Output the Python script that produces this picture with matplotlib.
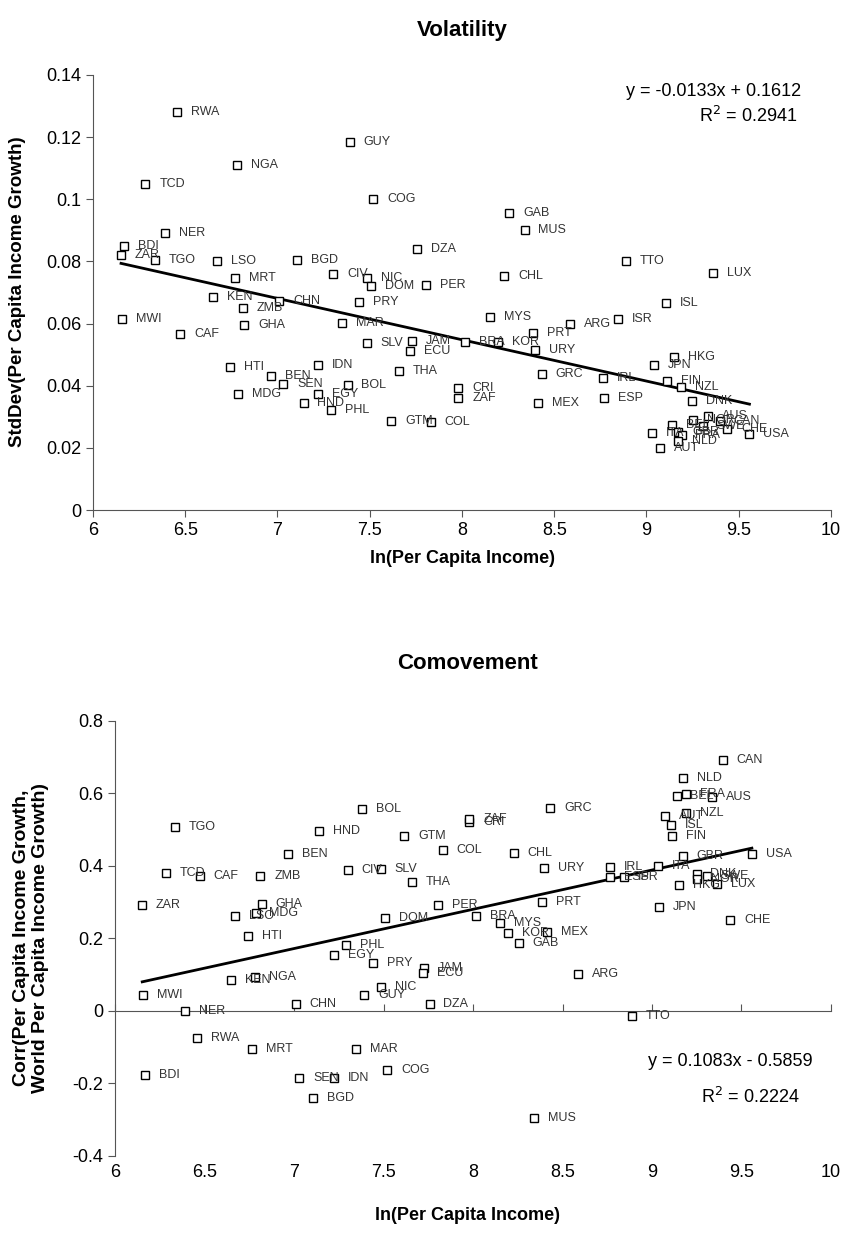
import numpy as np
import matplotlib
matplotlib.use("Agg")
import matplotlib.pyplot as plt
from matplotlib.ticker import FormatStrFormatter, MultipleLocator

plt.rcParams['font.family'] = ['Liberation Sans', 'DejaVu Sans']

# data
countries = ['RWA', 'GUY', 'NGA', 'TCD', 'COG', 'NER', 'BDI', 'ZAR', 'TGO', 'LSO',
             'BGD', 'MRT', 'CIV', 'NIC', 'DOM', 'KEN', 'CHN', 'PRY', 'GAB', 'MUS',
             'DZA', 'PER', 'CHL', 'MAR', 'MYS', 'PRT', 'ARG', 'ZMB', 'MWI', 'GHA',
             'CAF', 'SLV', 'HTI', 'IDN', 'BEN', 'SEN', 'BOL', 'MDG', 'EGY', 'HND',
             'PHL', 'GTM', 'JAM', 'ECU', 'BRA', 'KOR', 'URY', 'THA', 'GRC', 'IRL',
             'CRI', 'ZAF', 'ESP', 'MEX', 'COL', 'ISR', 'TTO', 'LUX', 'ISL', 'HKG',
             'JPN', 'FIN', 'NZL', 'DNK', 'AUS', 'BEL', 'NOR', 'CAN', 'ITA', 'GBR',
             'FRA', 'SWE', 'CHE', 'USA', 'NLD', 'AUT']
ln_income = [6.457, 7.392, 6.782, 6.284, 7.520, 6.390, 6.170, 6.152, 6.336, 6.670,
             7.107, 6.768, 7.301, 7.486, 7.507, 6.650, 7.010, 7.443, 8.256, 8.339,
             7.757, 7.805, 8.228, 7.348, 8.153, 8.384, 8.585, 6.812, 6.157, 6.820,
             6.472, 7.485, 6.745, 7.222, 6.966, 7.030, 7.380, 6.785, 7.222, 7.141,
             7.292, 7.617, 7.727, 7.720, 8.015, 8.195, 8.396, 7.659, 8.432, 8.764,
             7.980, 7.980, 8.768, 8.414, 7.831, 8.844, 8.888, 9.362, 9.104, 9.150,
             9.039, 9.113, 9.189, 9.249, 9.333, 9.137, 9.252, 9.396, 9.032, 9.172,
             9.190, 9.305, 9.438, 9.558, 9.172, 9.071]
stddev = [0.1280, 0.1185, 0.1110, 0.1050, 0.1000, 0.0890, 0.0851, 0.0820, 0.0805, 0.0801,
          0.0805, 0.0746, 0.0761, 0.0746, 0.0720, 0.0686, 0.0672, 0.0668, 0.0956, 0.0900,
          0.0841, 0.0723, 0.0753, 0.0602, 0.0620, 0.0569, 0.0598, 0.0651, 0.0615, 0.0597,
          0.0567, 0.0536, 0.0461, 0.0466, 0.0431, 0.0405, 0.0401, 0.0375, 0.0375, 0.0345,
          0.0322, 0.0287, 0.0545, 0.0513, 0.0542, 0.0540, 0.0515, 0.0448, 0.0438, 0.0424,
          0.0392, 0.0362, 0.0362, 0.0343, 0.0282, 0.0615, 0.0801, 0.0762, 0.0666, 0.0491,
          0.0467, 0.0416, 0.0397, 0.0352, 0.0302, 0.0273, 0.0289, 0.0287, 0.0247, 0.0250,
          0.0240, 0.0271, 0.0260, 0.0246, 0.0223, 0.0199]
corr = [-0.075, 0.044, 0.095, 0.380, -0.163, 0.001, -0.178, 0.291, 0.508, 0.262,
        -0.241, -0.106, 0.389, 0.065, 0.257, 0.086, 0.019, 0.133, 0.188, -0.295,
        0.019, 0.291, 0.437, -0.106, 0.242, 0.302, 0.101, 0.372, 0.044, 0.295,
        0.372, 0.393, 0.207, -0.186, 0.433, -0.186, 0.556, 0.269, 0.154, 0.497,
        0.182, 0.483, 0.118, 0.104, 0.262, 0.214, 0.394, 0.356, 0.561, 0.398,
        0.520, 0.529, 0.370, 0.219, 0.444, 0.369, -0.013, 0.350, 0.513, 0.348,
        0.288, 0.484, 0.547, 0.378, 0.589, 0.593, 0.363, 0.692, 0.401, 0.428,
        0.599, 0.371, 0.251, 0.433, 0.642, 0.539]

fit_vol = (-0.0133, 0.1612, 0.2941)
fit_com = (0.1083, -0.5859, 0.2224)

fig = plt.figure(figsize=(8.47, 12.35), dpi=100)
ax1 = fig.add_axes([0.1098, 0.5870, 0.8713, 0.3523])
ax2 = fig.add_axes([0.1358, 0.0640, 0.8453, 0.3522])


def scatter_labels(ax, x, y):
    ax.plot(x, y, 's', ms=6, mfc='white', mec='black', mew=1.0, ls='none', zorder=3)
    for c, xi, yi in zip(countries, x, y):
        ax.annotate(c, (xi, yi), xytext=(10, 0), textcoords='offset points',
                    ha='left', va='center', fontsize=9, color='#333333', zorder=4)


def trend(ax, fit, x):
    xs = np.array([min(x), max(x)])
    ax.plot(xs, fit[0] * xs + fit[1], color='black', lw=2.0, zorder=2)


for ax in (ax1, ax2):
    ax.spines['top'].set_visible(False)
    ax.spines['right'].set_visible(False)
    ax.spines['left'].set_color('#555555')
    ax.spines['bottom'].set_color('#555555')
    ax.set_xlim(6, 10)
    ax.xaxis.set_major_locator(MultipleLocator(0.5))
    ax.xaxis.set_major_formatter(FormatStrFormatter('%g'))
    ax.yaxis.set_major_formatter(FormatStrFormatter('%g'))
    ax.tick_params(axis='y', direction='out', length=5, labelsize=13, color='#555555')

# --- Volatility ---
scatter_labels(ax1, ln_income, stddev)
trend(ax1, fit_vol, ln_income)
ax1.set_ylim(0, 0.14)
ax1.yaxis.set_major_locator(MultipleLocator(0.02))
ax1.tick_params(axis='x', direction='out', length=5, labelsize=13, color='#555555')
ax1.text(0.96, 0.962, 'y = -0.0133x + 0.1612', transform=ax1.transAxes,
         ha='right', va='center', fontsize=13)
ax1.text(0.888, 0.905, 'R$^2$ = 0.2941', transform=ax1.transAxes,
         ha='center', va='center', fontsize=13)

# --- Comovement ---
scatter_labels(ax2, ln_income, corr)
trend(ax2, fit_com, ln_income)
ax2.set_ylim(-0.4, 0.8)
ax2.yaxis.set_major_locator(MultipleLocator(0.2))
ax2.spines['bottom'].set_position(('data', 0))
ax2.tick_params(axis='x', direction='in', length=5, labelbottom=False, color='#555555')
sec = ax2.secondary_xaxis(0)
sec.xaxis.set_major_locator(MultipleLocator(0.5))
sec.xaxis.set_major_formatter(FormatStrFormatter('%g'))
sec.spines['bottom'].set_visible(False)
sec.tick_params(axis='x', length=0, labelsize=13, pad=6)
ax2.text(0.975, 0.218, 'y = 0.1083x - 0.5859', transform=ax2.transAxes,
         ha='right', va='center', fontsize=13)
ax2.text(0.888, 0.136, 'R$^2$ = 0.2224', transform=ax2.transAxes,
         ha='center', va='center', fontsize=13)

# titles and axis labels
narrow = ['Liberation Sans Narrow', 'Liberation Sans', 'DejaVu Sans']
fig.text(0.5455, 0.9757, 'Volatility', ha='center', va='center', fontsize=16,
         fontweight='bold', family=narrow)
fig.text(0.5455, 0.5475, 'ln(Per Capita Income)', ha='center', va='center',
         fontsize=13, fontweight='bold', family=narrow)
fig.text(0.021, 0.7636, 'StdDev(Per Capita Income Growth)', ha='center', va='center',
         rotation=90, fontsize=13.5, fontweight='bold')
fig.text(0.552, 0.463, 'Comovement', ha='center', va='center', fontsize=16,
         fontweight='bold', family=narrow)
fig.text(0.552, 0.016, 'ln(Per Capita Income)', ha='center', va='center',
         fontsize=13, fontweight='bold', family=narrow)
fig.text(0.037, 0.2405, 'Corr(Per Capita Income Growth,\nWorld Per Capita Income Growth)',
         ha='center', va='center', rotation=90, fontsize=14, fontweight='bold',
         linespacing=1.15)

fig.savefig('out.png', dpi=100)
